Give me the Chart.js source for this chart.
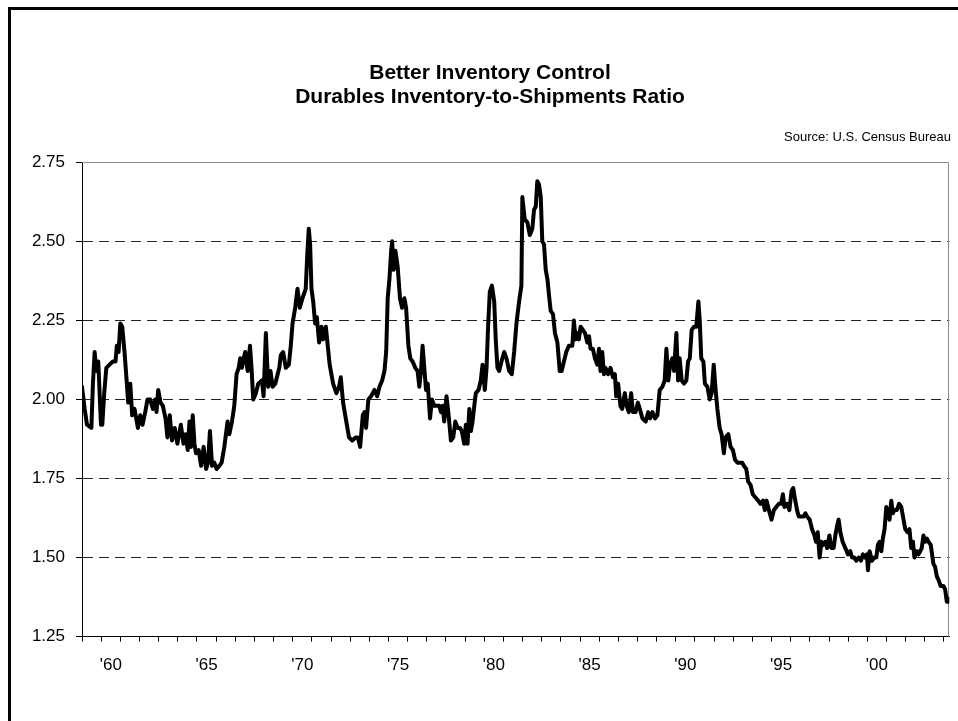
<!DOCTYPE html>
<html>
<head>
<meta charset="utf-8">
<script src="https://cdn.jsdelivr.net/npm/chart.js@4.4.1/dist/chart.umd.min.js"></script>
<style>
  html, body { margin: 0; padding: 0; background: #fff; overflow: hidden; }
  #wrap { position: relative; width: 958px; height: 721px; }
  #frame { position: absolute; left: 8px; top: 7px; width: 1000px; height: 800px; border: 3px solid #000; pointer-events: none; }
</style>
</head>
<body>
<div id="wrap">
  <canvas id="ratio" width="958" height="721"></canvas>
  <div id="frame"></div>
</div>
<script>
// month position (decimal year) and durables inventory-to-shipments ratio
const years = [
  1959.00, 1959.14, 1959.26, 1959.49, 1959.57, 1959.66, 1959.75, 1959.85, 1959.92, 1959.99,
  1960.06, 1960.16, 1960.27, 1960.44, 1960.61, 1960.75, 1960.82, 1960.91, 1961.00, 1961.10,
  1961.22, 1961.33, 1961.41, 1961.52, 1961.62, 1961.74, 1961.92, 1962.04, 1962.16, 1962.30,
  1962.42, 1962.56, 1962.70, 1962.82, 1962.89, 1962.98, 1963.10, 1963.22, 1963.36, 1963.46,
  1963.58, 1963.70, 1963.84, 1963.98, 1964.16, 1964.30, 1964.40, 1964.52, 1964.61, 1964.69,
  1964.78, 1964.87, 1964.95, 1965.09, 1965.22, 1965.35, 1965.48, 1965.58, 1965.68, 1965.79,
  1965.91, 1966.03, 1966.17, 1966.29, 1966.43, 1966.60, 1966.69, 1966.83, 1966.95, 1967.07,
  1967.18, 1967.26, 1967.35, 1967.44, 1967.52, 1967.65, 1967.77, 1967.85, 1967.94, 1968.08,
  1968.20, 1968.39, 1968.48, 1968.60, 1968.72, 1968.84, 1968.95, 1969.09, 1969.30, 1969.38,
  1969.50, 1969.64, 1969.80, 1969.90, 1969.99, 1970.13, 1970.25, 1970.37, 1970.51, 1970.68,
  1970.77, 1970.84, 1970.91, 1970.98, 1971.07, 1971.17, 1971.26, 1971.38, 1971.50, 1971.59,
  1971.73, 1971.83, 1971.93, 1972.11, 1972.28, 1972.42, 1972.51, 1972.63, 1972.77, 1972.94,
  1973.11, 1973.29, 1973.40, 1973.52, 1973.66, 1973.75, 1973.83, 1973.95, 1974.09, 1974.27,
  1974.41, 1974.53, 1974.67, 1974.79, 1974.88, 1974.96, 1975.05, 1975.14, 1975.19, 1975.27,
  1975.36, 1975.48, 1975.60, 1975.71, 1975.83, 1975.92, 1976.04, 1976.14, 1976.26, 1976.40,
  1976.52, 1976.61, 1976.70, 1976.78, 1976.87, 1976.96, 1977.05, 1977.17, 1977.27, 1977.39,
  1977.51, 1977.65, 1977.74, 1977.83, 1977.91, 1978.03, 1978.14, 1978.26, 1978.38, 1978.49,
  1978.61, 1978.73, 1978.83, 1978.95, 1979.04, 1979.13, 1979.22, 1979.30, 1979.39, 1979.48,
  1979.56, 1979.70, 1979.82, 1979.91, 1980.03, 1980.12, 1980.20, 1980.29, 1980.40, 1980.52,
  1980.60, 1980.69, 1980.78, 1980.90, 1981.04, 1981.16, 1981.30, 1981.44, 1981.56, 1981.68,
  1981.82, 1981.94, 1981.99, 1982.11, 1982.25, 1982.38, 1982.51, 1982.60, 1982.69, 1982.77,
  1982.86, 1982.95, 1983.03, 1983.12, 1983.21, 1983.30, 1983.38, 1983.47, 1983.59, 1983.69,
  1983.82, 1983.94, 1984.04, 1984.16, 1984.28, 1984.42, 1984.60, 1984.68, 1984.77, 1984.86,
  1984.94, 1985.03, 1985.15, 1985.26, 1985.38, 1985.47, 1985.55, 1985.67, 1985.78, 1985.90,
  1985.99, 1986.07, 1986.16, 1986.25, 1986.33, 1986.47, 1986.59, 1986.72, 1986.82, 1986.89,
  1986.99, 1987.11, 1987.20, 1987.34, 1987.43, 1987.55, 1987.67, 1987.76, 1987.90, 1988.02,
  1988.12, 1988.26, 1988.43, 1988.56, 1988.66, 1988.78, 1988.92, 1989.04, 1989.16, 1989.30,
  1989.42, 1989.51, 1989.61, 1989.70, 1989.82, 1989.91, 1990.03, 1990.12, 1990.20, 1990.31,
  1990.43, 1990.55, 1990.64, 1990.73, 1990.83, 1990.95, 1991.07, 1991.18, 1991.25, 1991.33,
  1991.44, 1991.52, 1991.65, 1991.77, 1991.87, 1991.98, 1992.08, 1992.17, 1992.29, 1992.39,
  1992.51, 1992.60, 1992.74, 1992.86, 1992.98, 1993.09, 1993.21, 1993.33, 1993.47, 1993.56,
  1993.68, 1993.78, 1993.90, 1994.02, 1994.16, 1994.30, 1994.42, 1994.55, 1994.65, 1994.74,
  1994.86, 1995.00, 1995.12, 1995.24, 1995.38, 1995.50, 1995.59, 1995.67, 1995.81, 1995.93,
  1996.04, 1996.13, 1996.21, 1996.33, 1996.42, 1996.56, 1996.68, 1996.77, 1996.85, 1996.99,
  1997.11, 1997.24, 1997.32, 1997.41, 1997.51, 1997.60, 1997.69, 1997.81, 1997.90, 1998.02,
  1998.12, 1998.24, 1998.33, 1998.42, 1998.50, 1998.59, 1998.71, 1998.85, 1998.99, 1999.11,
  1999.20, 1999.32, 1999.42, 1999.55, 1999.67, 1999.77, 1999.89, 1999.98, 2000.03, 2000.12,
  2000.24, 2000.36, 2000.47, 2000.55, 2000.64, 2000.73, 2000.81, 2000.90, 2000.99, 2001.07,
  2001.16, 2001.25, 2001.33, 2001.42, 2001.54, 2001.66, 2001.77, 2001.89, 2001.98, 2002.10,
  2002.20, 2002.29, 2002.38, 2002.46, 2002.58, 2002.67, 2002.76, 2002.84, 2002.93, 2003.02,
  2003.10, 2003.19, 2003.31, 2003.45, 2003.54, 2003.63, 2003.71, 2003.83, 2003.97, 2004.06,
  2004.15, 2004.23, 2004.27
];
const ratio = [
  2.04, 1.97, 1.92, 1.91, 2.05, 2.15, 2.09, 2.12, 2.02, 1.92,
  1.92, 2.02, 2.10, 2.11, 2.12, 2.12, 2.17, 2.15, 2.24, 2.23,
  2.15, 2.06, 1.99, 2.05, 1.95, 1.97, 1.91, 1.95, 1.92, 1.96,
  2.00, 2.00, 1.97, 2.00, 1.96, 2.03, 1.99, 1.98, 1.94, 1.88,
  1.95, 1.87, 1.91, 1.86, 1.92, 1.86, 1.89, 1.84, 1.93, 1.85,
  1.95, 1.86, 1.83, 1.84, 1.79, 1.85, 1.78, 1.80, 1.90, 1.79,
  1.80, 1.78, 1.79, 1.80, 1.85, 1.93, 1.89, 1.93, 1.98, 2.08,
  2.10, 2.13, 2.10, 2.13, 2.15, 2.09, 2.17, 2.10, 2.00, 2.02,
  2.05, 2.06, 2.01, 2.21, 2.04, 2.09, 2.04, 2.05, 2.10, 2.14,
  2.15, 2.10, 2.11, 2.17, 2.24, 2.29, 2.35, 2.29, 2.32, 2.35,
  2.47, 2.54, 2.49, 2.35, 2.31, 2.24, 2.26, 2.18, 2.23, 2.19,
  2.23, 2.17, 2.11, 2.05, 2.02, 2.04, 2.07, 1.99, 1.94, 1.88,
  1.87, 1.88, 1.88, 1.85, 1.95, 1.96, 1.91, 2.00, 2.01, 2.03,
  2.01, 2.04, 2.06, 2.09, 2.15, 2.32, 2.38, 2.47, 2.50, 2.41,
  2.47, 2.42, 2.32, 2.29, 2.32, 2.29, 2.17, 2.13, 2.12, 2.10,
  2.09, 2.04, 2.09, 2.17, 2.10, 2.03, 2.05, 1.94, 2.00, 1.98,
  1.98, 1.98, 1.96, 1.98, 1.93, 2.01, 1.95, 1.87, 1.88, 1.93,
  1.91, 1.91, 1.90, 1.86, 1.92, 1.86, 1.97, 1.90, 1.93, 1.98,
  2.02, 2.03, 2.06, 2.11, 2.03, 2.10, 2.23, 2.34, 2.36, 2.31,
  2.19, 2.10, 2.09, 2.12, 2.15, 2.13, 2.09, 2.08, 2.15, 2.24,
  2.31, 2.36, 2.64, 2.57, 2.56, 2.52, 2.54, 2.60, 2.61, 2.69,
  2.68, 2.64, 2.50, 2.49, 2.41, 2.38, 2.33, 2.28, 2.27, 2.21,
  2.18, 2.09, 2.09, 2.12, 2.15, 2.17, 2.17, 2.25, 2.19, 2.21,
  2.19, 2.23, 2.22, 2.21, 2.18, 2.20, 2.16, 2.16, 2.13, 2.11,
  2.16, 2.09, 2.15, 2.08, 2.10, 2.08, 2.10, 2.07, 2.08, 2.01,
  2.05, 1.98, 1.97, 2.02, 1.98, 1.96, 2.02, 1.96, 1.96, 1.99,
  1.97, 1.94, 1.93, 1.96, 1.94, 1.96, 1.94, 1.95, 2.03, 2.04,
  2.06, 2.16, 2.06, 2.11, 2.13, 2.09, 2.21, 2.06, 2.13, 2.06,
  2.05, 2.06, 2.12, 2.13, 2.22, 2.23, 2.23, 2.31, 2.25, 2.13,
  2.12, 2.05, 2.04, 2.00, 2.02, 2.11, 2.03, 1.97, 1.91, 1.89,
  1.83, 1.88, 1.89, 1.85, 1.84, 1.81, 1.80, 1.80, 1.80, 1.79,
  1.78, 1.74, 1.73, 1.70, 1.69, 1.68, 1.67, 1.68, 1.65, 1.68,
  1.65, 1.62, 1.65, 1.66, 1.67, 1.67, 1.70, 1.66, 1.67, 1.65,
  1.71, 1.72, 1.69, 1.65, 1.63, 1.63, 1.63, 1.64, 1.63, 1.62,
  1.59, 1.57, 1.55, 1.58, 1.50, 1.55, 1.54, 1.55, 1.53, 1.57,
  1.53, 1.53, 1.57, 1.60, 1.62, 1.58, 1.55, 1.53, 1.51, 1.52,
  1.50, 1.50, 1.49, 1.50, 1.49, 1.51, 1.50, 1.51, 1.46, 1.52,
  1.49, 1.50, 1.50, 1.54, 1.55, 1.52, 1.56, 1.59, 1.66, 1.64,
  1.62, 1.68, 1.64, 1.65, 1.65, 1.67, 1.66, 1.62, 1.59, 1.58,
  1.59, 1.53, 1.55, 1.50, 1.52, 1.51, 1.52, 1.53, 1.57, 1.55,
  1.56, 1.55, 1.54, 1.48, 1.47, 1.44, 1.43, 1.41, 1.41, 1.40,
  1.36, 1.36, 1.37
];

// axis ticks
const tickYears = [
  1959, 1960, 1961, 1962, 1963, 1964, 1965, 1966, 1967, 1968, 1969, 1970, 1971, 1972, 1973,
  1974, 1975, 1976, 1977, 1978, 1979, 1980, 1981, 1982, 1983, 1984, 1985, 1986, 1987, 1988,
  1989, 1990, 1991, 1992, 1993, 1994, 1995, 1996, 1997, 1998, 1999, 2000, 2001, 2002, 2003, 2004
];
const labelYears = [1960, 1965, 1970, 1975, 1980, 1985, 1990, 1995, 2000];
const yearLabels = ["'60", "'65", "'70", "'75", "'80", "'85", "'90", "'95", "'00"];

const FONT = "'Liberation Sans', Arial, Helvetica, sans-serif";

// gray top/right edges of the plot area and the source note
const plotFrame = {
  id: 'plotFrame',
  beforeDatasetsDraw(chart) {
    const { ctx, chartArea: a } = chart;
    ctx.save();
    ctx.strokeStyle = '#8c8c8c';
    ctx.lineWidth = 1;
    ctx.beginPath();
    ctx.moveTo(a.left, Math.round(a.top) + 0.5);
    ctx.lineTo(Math.round(a.right) - 0.5, Math.round(a.top) + 0.5);
    ctx.lineTo(Math.round(a.right) - 0.5, a.bottom);
    ctx.stroke();
    ctx.restore();
  },
  afterDraw(chart) {
    const ctx = chart.ctx;
    ctx.save();
    ctx.font = '13px ' + FONT;
    ctx.fillStyle = '#000';
    ctx.textAlign = 'right';
    ctx.textBaseline = 'middle';
    ctx.fillText('Source: U.S. Census Bureau', 951, 137);
    ctx.restore();
  }
};

const ratioChart = document.getElementById('ratio');

new Chart(ratioChart, {
  type: 'line',
  data: {
    datasets: [{
      label: 'Durables Inventory-to-Shipments Ratio',
      data: years.map((x, i) => ({ x: x, y: ratio[i] })),
      borderColor: '#000',
      borderWidth: 4,
      borderJoinStyle: 'round',
      borderCapStyle: 'round',
      pointRadius: 0,
      tension: 0,
      fill: false,
    }],
  },
  options: {
    responsive: false,
    animation: false,
    layout: { padding: { left: 29, right: 7, top: 53, bottom: 31 } },
    plugins: {
      legend: { display: false },
      tooltip: { enabled: false },
      title: {
        display: true,
        text: ['Better Inventory Control', 'Durables Inventory-to-Shipments Ratio'],
        color: '#000',
        font: { family: FONT, size: 21, weight: 'bold', lineHeight: 1.15 },
        padding: { top: 8, bottom: 53 },
      },
    },
    scales: {
      x: {
        type: 'linear',
        min: 1959,
        max: 2004.28,
        afterBuildTicks: (scale) => {
          scale.ticks = tickYears.map(v => ({ value: v }));
        },
        grid: {
          drawOnChartArea: false,
          drawTicks: true,
          tickLength: 5,
          color: '#000',
          tickColor: '#000',
        },
        border: { display: true, color: '#000', width: 1 },
        ticks: {
          autoSkip: false,
          maxRotation: 0,
          minRotation: 0,
          padding: 14,
          labelOffset: 9.6,
          color: '#000',
          font: { family: FONT, size: 17 },
          callback: (v) => {
            const k = labelYears.indexOf(v);
            return k >= 0 ? yearLabels[k] : '';
          },
        },
      },
      y: {
        min: 1.25,
        max: 2.75,
        afterFit: (scale) => { scale.width = 53; },
        ticks: {
          stepSize: 0.25,
          padding: 11,
          color: '#000',
          font: { family: FONT, size: 17 },
          callback: (v) => v.toFixed(2),
        },
        grid: {
          drawTicks: true,
          tickLength: 6,
          tickColor: '#000',
          color: (c) => (c.tick && (c.tick.value === 2.75 || c.tick.value === 1.25)) ? 'rgba(0,0,0,0)' : '#222',
        },
        border: { display: true, color: '#000', width: 1, dash: [10, 6] },
      },
    },
  },
  plugins: [plotFrame],
});
</script>
</body>
</html>
